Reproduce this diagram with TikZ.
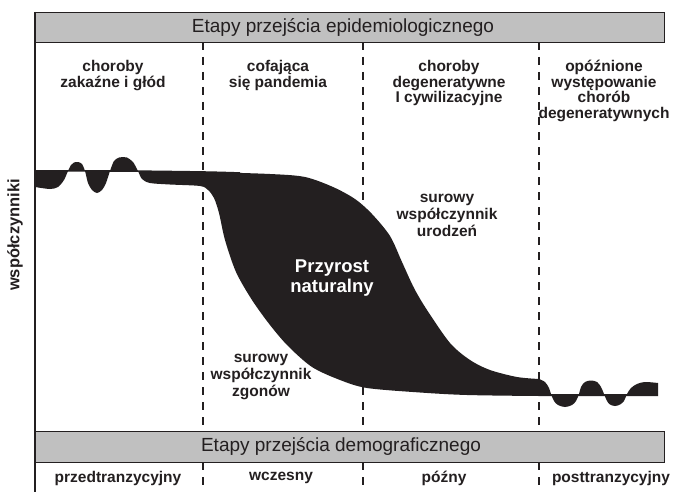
\documentclass[tikz,border=0pt]{standalone}
\usepackage{fontspec}
\setmainfont{Liberation Sans}
\definecolor{hdrgray}{HTML}{C0C0C0}
\definecolor{ink}{HTML}{231F20}
\begin{document}
\begin{tikzpicture}[x=1pt,y=-1pt,
  hdr/.style={draw=ink, line width=1.3pt, fill=hdrgray},
  hdrtext/.style={font=\fontsize{19}{21}\selectfont, text=ink},
  lbl/.style={font=\bfseries\fontsize{15.5}{15.5}\selectfont, align=center, text=ink},
  midlbl/.style={font=\bfseries\fontsize{15.5}{17}\selectfont, align=center, text=ink},
  dsh/.style={draw=ink, dash pattern=on 8pt off 7pt, line width=1.3pt}]
\useasboundingbox (0,0) rectangle (682,492);
\fill[white] (0,0) rectangle (682,492);

% dashed separators
\foreach \xx/\nm in {203/a,363/b,539/c}{
  \coordinate (\nm t) at (\xx,42);
  \coordinate (\nm b) at (\xx,431);
  \coordinate (\nm u) at (\xx,462);
  \coordinate (\nm v) at (\xx,492);
  \draw[dsh] (\nm t) -- (\nm b);
  \draw[dsh] (\nm u) -- (\nm v);
}

% band between birth and death rates
\fill[ink, line join=round]
  plot[smooth, tension=0.5] coordinates {(35,171) (120,171) (203,172) (270,174) (305,177) (333,187) (355,199) (372,214) (390,236) (402,262) (414,288) (427,310) (450,343) (470,360) (490,370) (517,377) (539,379)}
  -- plot[smooth, tension=0.55] coordinates {(539,379) (545,382) (549,388) (551,394) (554,401) (558,405) (565,407) (572,405) (576,401) (579,394) (581,387) (585,382) (591,380.5) (597,382) (601,387) (604,394) (607,401) (610,404.5) (615,406) (620,404.5) (624,401) (627,394) (631,388) (637,384) (645,382) (658,383)}
  -- (658,396)
  -- plot[smooth, tension=0.5] coordinates {(658,396) (600,396) (539,396) (467,395) (420,392.5) (367,388) (340,380) (312,367) (288,346) (270,325) (252,300) (236,272) (225,240) (219,213) (214,198) (208,190) (200,186) (170,184.5) (150,183) (142,179) (138,171) (133,162) (127,157.5) (123,157) (119,157.5) (114,161) (110,171) (106,183) (102,190) (97,193) (92,190) (88,183) (85,171) (82,164) (78,162) (74,162.5) (71,165) (68,171) (64,180) (58,187) (50,189) (35,187)}
  -- cycle;
\draw[ink, line width=1.6pt] plot[smooth, tension=0.5] coordinates {(35,171) (120,171) (203,172) (240,173)};
\draw[ink, line width=2.5pt] (545,395) -- (658,395);

% axis line
\coordinate (axtop) at (35,12);
\coordinate (axbot) at (35,492);
\draw[ink, line width=1.3pt] (axtop) -- (axbot);

% header boxes
\node[hdr, minimum width=629pt, minimum height=30pt, anchor=north west, inner sep=0pt] (topbox) at (35,12) {};
\node[hdrtext] (toptxt) at (343,27.5) {Etapy przejścia epidemiologicznego};
\node[hdr, minimum width=629pt, minimum height=31pt, anchor=north west, inner sep=0pt] (botbox) at (35,431) {};
\node[hdrtext] (bottxt) at (341,446.5) {Etapy przejścia demograficznego};

% top column labels
\node[lbl] (e1) at (113,75.5) {choroby\\zakaźne i głód};
\node[lbl] (e2) at (278,75.5) {cofająca\\się pandemia};
\node[lbl] (e3) at (449,83) {choroby\\degeneratywne\\I cywilizacyjne};
\node[lbl] (e4) at (604,91) {opóźnione\\występowanie\\chorób\\degeneratywnych};

% bottom labels
\node[lbl] (d1) at (118,478) {przedtranzycyjny};
\node[lbl] (d2) at (281,478) {wczesny};
\node[lbl] (d3) at (444,478) {późny};
\node[lbl] (d4) at (611,478) {posttranzycyjny};

% middle labels
\node[midlbl] (ur) at (447,215) {surowy\\współczynnik\\urodzeń};
\node[midlbl] (zg) at (261,377) {surowy\\współczynnik\\zgonów};
\node[font=\bfseries\fontsize{18.5}{20}\selectfont, align=center, text=white] (pn) at (332,278) {Przyrost\\naturalny};

% vertical axis label
\node[font=\bfseries\fontsize{16.5}{18}\selectfont, text=ink, rotate=90] (ax) at (15,235) {współczynniki};
\end{tikzpicture}
\end{document}
